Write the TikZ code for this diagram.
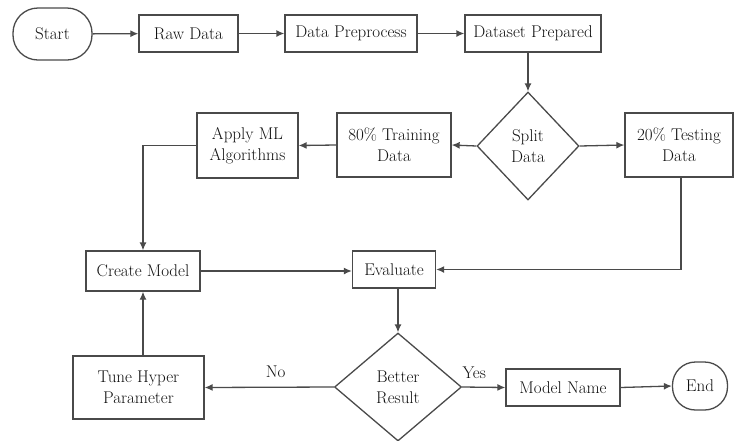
\documentclass[tikz,border=0pt]{standalone}
\usetikzlibrary{shapes.geometric,arrows.meta}
\definecolor{linegray}{HTML}{4A4A4A}
\definecolor{textgray}{HTML}{111111}
\begin{document}
\begin{tikzpicture}[x=1pt,y=-1pt,
  every node/.style={font=\rmfamily\fontsize{17}{21}\selectfont, text=textgray, align=center, inner sep=0pt},
  box/.style={draw=linegray, line width=1.3pt, rectangle},
  term/.style={draw=linegray, line width=1.3pt, rectangle, rounded corners=23pt},
  decision/.style={draw=linegray, line width=1.3pt, diamond},
  conn/.style={draw=linegray, line width=1.3pt, -{Latex[length=8pt,width=7pt]}},
  lbl/.style={font=\rmfamily\fontsize{17}{19}\selectfont}
]
\useasboundingbox (0,0) rectangle (740,440);
\node[term, minimum width=79pt, minimum height=52pt, rounded corners=25pt] (start) at (52.5,34) {Start};
\node[box, minimum width=99pt, minimum height=37pt] (raw) at (188.5,33.5) {Raw Data};
\node[box, minimum width=132pt, minimum height=37pt] (prep) at (351,33.5) {Data Preprocess};
\node[box, minimum width=136pt, minimum height=37pt] (dset) at (533,33.5) {Dataset Prepared};
\node[decision, minimum width=102pt, minimum height=108pt] (split) at (528,146) {Split\\Data};
\node[box, minimum width=114pt, minimum height=64pt] (train) at (394,145) {80\% Training\\Data};
\node[box, minimum width=101pt, minimum height=65pt] (apply) at (247.5,145.5) {Apply ML\\Algorithms};
\node[box, minimum width=108pt, minimum height=64pt] (test) at (679,145) {20\% Testing\\Data};
\node[box, minimum width=114pt, minimum height=40pt] (create) at (143,271) {Create Model};
\node[box, minimum width=83pt, minimum height=37pt] (eval) at (394,269.5) {Evaluate};
\node[decision, minimum width=127pt, minimum height=108pt] (better) at (398,387) {Better\\Result};
\node[box, minimum width=131pt, minimum height=63pt] (tune) at (138.5,387.5) {Tune Hyper\\Parameter};
\node[box, minimum width=114pt, minimum height=37pt] (mname) at (563,387.5) {Model Name};
\node[term, minimum width=55pt, minimum height=48pt, rounded corners=23pt] (endn) at (700,386) {End};
\coordinate (applycorner) at (143,145.5);
\coordinate (testcorner) at (681,269.5);

\draw[conn] (start) -- (raw);
\draw[conn] (raw) -- (prep);
\draw[conn] (prep) -- (dset);
\draw[conn] (dset.south -| split.north) -- (split.north);
\draw[conn] (split.west) -- (train.east);
\draw[conn] (split.east) -- (test.west);
\draw[conn] (train.west) -- (apply.east);
\draw[conn] (apply.west) -- (applycorner) -- (create.north -| applycorner);
\draw[conn] (create.east) -- (create.east -| eval.west);
\draw[conn] (test.south -| testcorner) -- (testcorner) -- (eval.east);
\draw[conn] (eval.south -| better.north) -- (better.north);
\draw[conn] (better.west) -- node[lbl, above=9pt, pos=0.45] {No} (tune.east);
\draw[conn] (tune.north -| create.south) -- (create.south);
\draw[conn] (better.east) -- node[lbl, above=8pt, pos=0.28] {Yes} (mname.west);
\draw[conn] (mname.east) -- (endn.west);
\end{tikzpicture}
\end{document}
